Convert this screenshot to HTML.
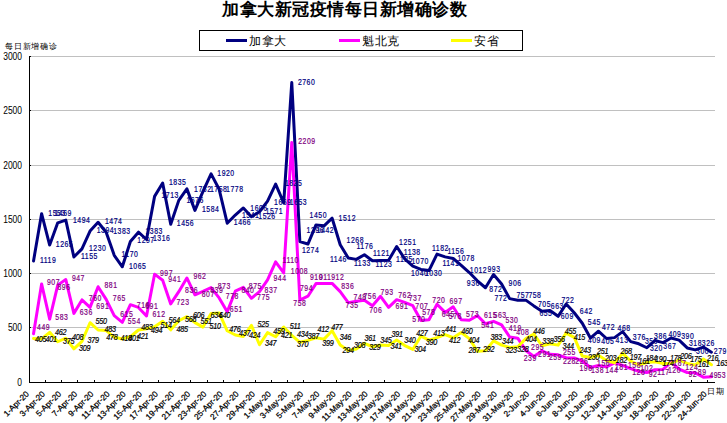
<!DOCTYPE html>
<html><head><meta charset="utf-8"><style>
html,body{margin:0;padding:0;background:#fff;width:727px;height:423px;overflow:hidden}
body{position:relative;font-family:"Liberation Sans",sans-serif}
svg{position:absolute;left:0;top:0}
text{font-family:"Liberation Sans",sans-serif}
.yl{font-size:10.2px;fill:#000}
.xl{font-size:8.2px;fill:#000;stroke:#000;stroke-width:0.25px}
.lca,.lqc,.lon{font-size:8.4px;letter-spacing:-0.3px}
.lca,.lqc{letter-spacing:0.63px}
.lca{fill:#000080;stroke:#000080;stroke-width:0.2px}
.lqc{fill:#800080;stroke:#800080;stroke-width:0.2px}
.lon{fill:#000;font-style:italic;stroke:#000;stroke-width:0.2px}
#title{position:absolute;left:222px;top:-2px;font-size:17px;letter-spacing:0.5px;font-weight:bold;white-space:nowrap}
#ylab{position:absolute;left:5px;top:40.8px;font-size:8px;letter-spacing:0.8px;white-space:nowrap}
#xlab{position:absolute;left:707px;top:386px;font-size:8px;white-space:nowrap;letter-spacing:1px}
#legend{position:absolute;left:199px;top:30px;width:322px;height:19px;border:1px solid #000;background:#fff}
.li{position:absolute;top:1.3px;height:19px;font-size:12px;line-height:19px;white-space:nowrap}
.li i{position:absolute;top:6.7px;height:3px;width:21px;left:0}
.li span{position:absolute;left:23px;top:0;letter-spacing:0.6px}
</style></head><body>
<svg width="727" height="423" viewBox="0 0 727 423">
<line x1="30" y1="327.5" x2="715" y2="327.5" stroke="#c0c0c0" stroke-width="1"/>
<line x1="30" y1="327.5" x2="31" y2="327.5" stroke="#000" stroke-width="1"/>
<line x1="30" y1="273.5" x2="715" y2="273.5" stroke="#c0c0c0" stroke-width="1"/>
<line x1="30" y1="273.5" x2="31" y2="273.5" stroke="#000" stroke-width="1"/>
<line x1="30" y1="219.5" x2="715" y2="219.5" stroke="#c0c0c0" stroke-width="1"/>
<line x1="30" y1="219.5" x2="31" y2="219.5" stroke="#000" stroke-width="1"/>
<line x1="30" y1="165.5" x2="715" y2="165.5" stroke="#c0c0c0" stroke-width="1"/>
<line x1="30" y1="165.5" x2="31" y2="165.5" stroke="#000" stroke-width="1"/>
<line x1="30" y1="110.5" x2="715" y2="110.5" stroke="#c0c0c0" stroke-width="1"/>
<line x1="30" y1="110.5" x2="31" y2="110.5" stroke="#000" stroke-width="1"/>
<line x1="30" y1="56.5" x2="715" y2="56.5" stroke="#c0c0c0" stroke-width="1"/>
<line x1="30" y1="56.5" x2="31" y2="56.5" stroke="#000" stroke-width="1"/>
<line x1="29.5" y1="56" x2="29.5" y2="383" stroke="#000" stroke-width="1"/>
<line x1="29" y1="382.5" x2="715" y2="382.5" stroke="#000" stroke-width="1"/>
<line x1="45.5" y1="380" x2="45.5" y2="382" stroke="#000" stroke-width="1"/>
<line x1="61.5" y1="380" x2="61.5" y2="382" stroke="#000" stroke-width="1"/>
<line x1="77.5" y1="380" x2="77.5" y2="382" stroke="#000" stroke-width="1"/>
<line x1="94.5" y1="380" x2="94.5" y2="382" stroke="#000" stroke-width="1"/>
<line x1="110.5" y1="380" x2="110.5" y2="382" stroke="#000" stroke-width="1"/>
<line x1="126.5" y1="380" x2="126.5" y2="382" stroke="#000" stroke-width="1"/>
<line x1="142.5" y1="380" x2="142.5" y2="382" stroke="#000" stroke-width="1"/>
<line x1="158.5" y1="380" x2="158.5" y2="382" stroke="#000" stroke-width="1"/>
<line x1="174.5" y1="380" x2="174.5" y2="382" stroke="#000" stroke-width="1"/>
<line x1="190.5" y1="380" x2="190.5" y2="382" stroke="#000" stroke-width="1"/>
<line x1="207.5" y1="380" x2="207.5" y2="382" stroke="#000" stroke-width="1"/>
<line x1="223.5" y1="380" x2="223.5" y2="382" stroke="#000" stroke-width="1"/>
<line x1="239.5" y1="380" x2="239.5" y2="382" stroke="#000" stroke-width="1"/>
<line x1="255.5" y1="380" x2="255.5" y2="382" stroke="#000" stroke-width="1"/>
<line x1="271.5" y1="380" x2="271.5" y2="382" stroke="#000" stroke-width="1"/>
<line x1="287.5" y1="380" x2="287.5" y2="382" stroke="#000" stroke-width="1"/>
<line x1="303.5" y1="380" x2="303.5" y2="382" stroke="#000" stroke-width="1"/>
<line x1="320.5" y1="380" x2="320.5" y2="382" stroke="#000" stroke-width="1"/>
<line x1="336.5" y1="380" x2="336.5" y2="382" stroke="#000" stroke-width="1"/>
<line x1="352.5" y1="380" x2="352.5" y2="382" stroke="#000" stroke-width="1"/>
<line x1="368.5" y1="380" x2="368.5" y2="382" stroke="#000" stroke-width="1"/>
<line x1="384.5" y1="380" x2="384.5" y2="382" stroke="#000" stroke-width="1"/>
<line x1="400.5" y1="380" x2="400.5" y2="382" stroke="#000" stroke-width="1"/>
<line x1="416.5" y1="380" x2="416.5" y2="382" stroke="#000" stroke-width="1"/>
<line x1="432.5" y1="380" x2="432.5" y2="382" stroke="#000" stroke-width="1"/>
<line x1="449.5" y1="380" x2="449.5" y2="382" stroke="#000" stroke-width="1"/>
<line x1="465.5" y1="380" x2="465.5" y2="382" stroke="#000" stroke-width="1"/>
<line x1="481.5" y1="380" x2="481.5" y2="382" stroke="#000" stroke-width="1"/>
<line x1="497.5" y1="380" x2="497.5" y2="382" stroke="#000" stroke-width="1"/>
<line x1="513.5" y1="380" x2="513.5" y2="382" stroke="#000" stroke-width="1"/>
<line x1="529.5" y1="380" x2="529.5" y2="382" stroke="#000" stroke-width="1"/>
<line x1="545.5" y1="380" x2="545.5" y2="382" stroke="#000" stroke-width="1"/>
<line x1="562.5" y1="380" x2="562.5" y2="382" stroke="#000" stroke-width="1"/>
<line x1="578.5" y1="380" x2="578.5" y2="382" stroke="#000" stroke-width="1"/>
<line x1="594.5" y1="380" x2="594.5" y2="382" stroke="#000" stroke-width="1"/>
<line x1="610.5" y1="380" x2="610.5" y2="382" stroke="#000" stroke-width="1"/>
<line x1="626.5" y1="380" x2="626.5" y2="382" stroke="#000" stroke-width="1"/>
<line x1="642.5" y1="380" x2="642.5" y2="382" stroke="#000" stroke-width="1"/>
<line x1="658.5" y1="380" x2="658.5" y2="382" stroke="#000" stroke-width="1"/>
<line x1="675.5" y1="380" x2="675.5" y2="382" stroke="#000" stroke-width="1"/>
<line x1="691.5" y1="380" x2="691.5" y2="382" stroke="#000" stroke-width="1"/>
<line x1="707.5" y1="380" x2="707.5" y2="382" stroke="#000" stroke-width="1"/>
<text transform="translate(22,385.8) scale(0.83,1)" text-anchor="end" class="yl">0</text>
<text transform="translate(22,330.8) scale(0.83,1)" text-anchor="end" class="yl">500</text>
<text transform="translate(22,276.8) scale(0.83,1)" text-anchor="end" class="yl">1000</text>
<text transform="translate(22,222.8) scale(0.83,1)" text-anchor="end" class="yl">1500</text>
<text transform="translate(22,168.8) scale(0.83,1)" text-anchor="end" class="yl">2000</text>
<text transform="translate(22,113.8) scale(0.83,1)" text-anchor="end" class="yl">2500</text>
<text transform="translate(22,59.8) scale(0.83,1)" text-anchor="end" class="yl">3000</text>
<text transform="translate(25.2,390.2) rotate(-45)" text-anchor="end" class="xl" x="0" y="6">1-Apr-20</text>
<text transform="translate(41.3,390.2) rotate(-45)" text-anchor="end" class="xl" x="0" y="6">3-Apr-20</text>
<text transform="translate(57.5,390.2) rotate(-45)" text-anchor="end" class="xl" x="0" y="6">5-Apr-20</text>
<text transform="translate(73.6,390.2) rotate(-45)" text-anchor="end" class="xl" x="0" y="6">7-Apr-20</text>
<text transform="translate(89.8,390.2) rotate(-45)" text-anchor="end" class="xl" x="0" y="6">9-Apr-20</text>
<text transform="translate(105.9,390.2) rotate(-45)" text-anchor="end" class="xl" x="0" y="6">11-Apr-20</text>
<text transform="translate(122.0,390.2) rotate(-45)" text-anchor="end" class="xl" x="0" y="6">13-Apr-20</text>
<text transform="translate(138.2,390.2) rotate(-45)" text-anchor="end" class="xl" x="0" y="6">15-Apr-20</text>
<text transform="translate(154.3,390.2) rotate(-45)" text-anchor="end" class="xl" x="0" y="6">17-Apr-20</text>
<text transform="translate(170.5,390.2) rotate(-45)" text-anchor="end" class="xl" x="0" y="6">19-Apr-20</text>
<text transform="translate(186.6,390.2) rotate(-45)" text-anchor="end" class="xl" x="0" y="6">21-Apr-20</text>
<text transform="translate(202.7,390.2) rotate(-45)" text-anchor="end" class="xl" x="0" y="6">23-Apr-20</text>
<text transform="translate(218.9,390.2) rotate(-45)" text-anchor="end" class="xl" x="0" y="6">25-Apr-20</text>
<text transform="translate(235.0,390.2) rotate(-45)" text-anchor="end" class="xl" x="0" y="6">27-Apr-20</text>
<text transform="translate(251.2,390.2) rotate(-45)" text-anchor="end" class="xl" x="0" y="6">29-Apr-20</text>
<text transform="translate(267.3,390.2) rotate(-45)" text-anchor="end" class="xl" x="0" y="6">1-May-20</text>
<text transform="translate(283.4,390.2) rotate(-45)" text-anchor="end" class="xl" x="0" y="6">3-May-20</text>
<text transform="translate(299.6,390.2) rotate(-45)" text-anchor="end" class="xl" x="0" y="6">5-May-20</text>
<text transform="translate(315.7,390.2) rotate(-45)" text-anchor="end" class="xl" x="0" y="6">7-May-20</text>
<text transform="translate(331.9,390.2) rotate(-45)" text-anchor="end" class="xl" x="0" y="6">9-May-20</text>
<text transform="translate(348.0,390.2) rotate(-45)" text-anchor="end" class="xl" x="0" y="6">11-May-20</text>
<text transform="translate(364.1,390.2) rotate(-45)" text-anchor="end" class="xl" x="0" y="6">13-May-20</text>
<text transform="translate(380.3,390.2) rotate(-45)" text-anchor="end" class="xl" x="0" y="6">15-May-20</text>
<text transform="translate(396.4,390.2) rotate(-45)" text-anchor="end" class="xl" x="0" y="6">17-May-20</text>
<text transform="translate(412.6,390.2) rotate(-45)" text-anchor="end" class="xl" x="0" y="6">19-May-20</text>
<text transform="translate(428.7,390.2) rotate(-45)" text-anchor="end" class="xl" x="0" y="6">21-May-20</text>
<text transform="translate(444.8,390.2) rotate(-45)" text-anchor="end" class="xl" x="0" y="6">23-May-20</text>
<text transform="translate(461.0,390.2) rotate(-45)" text-anchor="end" class="xl" x="0" y="6">25-May-20</text>
<text transform="translate(477.1,390.2) rotate(-45)" text-anchor="end" class="xl" x="0" y="6">27-May-20</text>
<text transform="translate(493.3,390.2) rotate(-45)" text-anchor="end" class="xl" x="0" y="6">29-May-20</text>
<text transform="translate(509.4,390.2) rotate(-45)" text-anchor="end" class="xl" x="0" y="6">31-May-20</text>
<text transform="translate(525.5,390.2) rotate(-45)" text-anchor="end" class="xl" x="0" y="6">2-Jun-20</text>
<text transform="translate(541.7,390.2) rotate(-45)" text-anchor="end" class="xl" x="0" y="6">4-Jun-20</text>
<text transform="translate(557.8,390.2) rotate(-45)" text-anchor="end" class="xl" x="0" y="6">6-Jun-20</text>
<text transform="translate(574.0,390.2) rotate(-45)" text-anchor="end" class="xl" x="0" y="6">8-Jun-20</text>
<text transform="translate(590.1,390.2) rotate(-45)" text-anchor="end" class="xl" x="0" y="6">10-Jun-20</text>
<text transform="translate(606.2,390.2) rotate(-45)" text-anchor="end" class="xl" x="0" y="6">12-Jun-20</text>
<text transform="translate(622.4,390.2) rotate(-45)" text-anchor="end" class="xl" x="0" y="6">14-Jun-20</text>
<text transform="translate(638.5,390.2) rotate(-45)" text-anchor="end" class="xl" x="0" y="6">16-Jun-20</text>
<text transform="translate(654.7,390.2) rotate(-45)" text-anchor="end" class="xl" x="0" y="6">18-Jun-20</text>
<text transform="translate(670.8,390.2) rotate(-45)" text-anchor="end" class="xl" x="0" y="6">20-Jun-20</text>
<text transform="translate(686.9,390.2) rotate(-45)" text-anchor="end" class="xl" x="0" y="6">22-Jun-20</text>
<text transform="translate(703.1,390.2) rotate(-45)" text-anchor="end" class="xl" x="0" y="6">24-Jun-20</text>
<polyline points="33.53,260.90 41.60,213.74 49.67,245.03 57.74,222.86 65.81,220.15 73.88,256.99 81.95,248.84 90.03,231.01 98.09,222.32 106.16,232.21 114.23,255.36 122.31,266.77 130.38,241.56 138.44,232.21 146.51,239.49 154.59,196.35 162.66,183.09 170.72,224.28 178.79,200.37 186.87,188.85 194.94,210.37 203.00,191.46 211.08,173.85 219.15,189.28 227.22,223.19 235.28,215.04 243.35,207.98 251.43,216.67 259.50,211.78 267.56,201.13 275.63,184.18 283.71,202.87 291.77,82.57 299.85,241.66 307.91,244.05 315.99,224.93 324.05,225.80 332.12,218.19 340.20,244.71 348.26,257.96 356.34,259.38 364.40,254.70 372.48,260.68 380.54,260.46 388.62,260.25 396.69,246.55 404.75,258.83 412.83,266.22 420.89,269.48 428.97,270.57 437.03,254.05 445.11,256.88 453.17,258.51 461.25,265.35 469.32,272.53 477.38,280.78 485.46,287.74 493.52,274.59 501.60,284.04 509.66,298.61 517.74,300.24 525.81,300.13 533.88,305.89 541.95,311.32 550.01,310.45 558.09,316.32 566.15,304.04 574.23,312.73 582.29,323.27 590.37,338.05 598.43,331.21 606.50,338.49 614.57,337.62 622.64,331.64 630.72,341.64 638.78,343.81 646.86,347.73 654.92,340.55 663.00,342.62 671.06,338.05 679.13,340.12 687.21,347.94 695.27,349.90 703.35,347.07 711.41,352.18" fill="none" stroke="#000080" stroke-width="3.0" stroke-linejoin="round" stroke-linecap="round"/>
<polyline points="33.53,333.71 41.60,283.94 49.67,319.15 57.74,285.13 65.81,279.59 73.88,313.39 81.95,299.91 90.03,307.41 98.09,286.76 106.16,299.37 114.23,315.67 122.31,322.30 130.38,304.69 138.44,307.41 146.51,315.99 154.59,274.16 162.66,280.24 170.72,303.93 178.79,291.65 186.87,277.96 194.94,294.80 203.00,291.33 211.08,287.63 219.15,297.95 227.22,311.76 235.28,291.22 243.35,287.41 251.43,298.28 259.50,291.54 267.56,279.92 275.63,261.88 283.71,272.96 291.77,142.45 299.85,300.13 307.91,296.22 315.99,283.61 324.05,283.50 332.12,283.39 340.20,291.65 348.26,302.63 356.34,301.21 364.40,300.35 372.48,305.78 380.54,296.32 388.62,307.41 396.69,299.69 404.75,302.41 412.83,305.67 420.89,320.56 428.97,319.69 437.03,304.26 445.11,312.41 453.17,306.76 461.25,319.69 469.32,320.23 477.38,315.67 485.46,323.71 493.52,321.32 501.60,324.90 509.66,336.97 517.74,338.16 525.81,350.44 533.88,356.53 541.95,350.88 550.01,354.35 558.09,354.79 566.15,357.72 574.23,357.94 582.29,360.98 590.37,367.50 598.43,365.55 606.50,366.85 614.57,362.83 622.64,365.33 630.72,368.59 638.78,371.42 646.86,372.50 654.92,369.79 663.00,369.46 671.06,362.18 679.13,369.02 687.21,372.50 695.27,372.83 703.35,377.18 711.41,376.74" fill="none" stroke="#ff00ff" stroke-width="3.0" stroke-linejoin="round" stroke-linecap="round"/>
<polyline points="33.53,338.49 41.60,338.92 49.67,332.29 57.74,341.75 65.81,338.16 73.88,348.92 81.95,341.31 90.03,322.73 98.09,330.01 106.16,330.56 114.23,337.08 122.31,338.92 130.38,336.75 138.44,330.01 146.51,328.82 154.59,326.64 162.66,321.21 170.72,329.80 178.79,320.78 186.87,316.65 194.94,322.62 203.00,327.08 211.08,313.60 219.15,312.95 227.22,330.77 235.28,335.01 243.35,336.42 251.43,325.45 259.50,344.79 267.56,332.62 275.63,336.75 283.71,326.97 291.77,335.34 299.85,342.29 307.91,340.44 315.99,337.73 324.05,339.14 332.12,330.66 340.20,344.90 348.26,350.55 356.34,349.03 364.40,343.27 372.48,346.75 380.54,345.01 388.62,345.44 396.69,340.01 404.75,345.55 412.83,349.46 420.89,336.10 428.97,340.12 437.03,337.62 445.11,334.58 453.17,337.73 461.25,332.51 469.32,338.60 477.38,351.31 485.46,350.77 493.52,340.88 501.60,345.12 509.66,347.40 517.74,346.86 525.81,338.60 533.88,334.03 541.95,345.77 550.01,343.81 558.09,345.12 566.15,333.06 574.23,337.40 582.29,356.09 590.37,357.51 598.43,355.22 606.50,360.44 614.57,362.72 622.64,353.38 630.72,361.09 638.78,365.00 646.86,362.50 654.92,361.85 663.00,363.59 671.06,363.16 679.13,360.11 687.21,363.48 695.27,365.00 703.35,359.03 711.41,364.79" fill="none" stroke="#ffff00" stroke-width="3.0" stroke-linejoin="round" stroke-linecap="round"/>
<text transform="translate(35.1,341.7) scale(0.86,1)" class="lon">405</text>
<text transform="translate(45.5,341.7) scale(0.86,1)" class="lon">401</text>
<text transform="translate(55.0,334.6) scale(0.86,1)" class="lon">462</text>
<text transform="translate(63.0,343.5) scale(0.86,1)" class="lon">375</text>
<text transform="translate(72.0,340.2) scale(0.86,1)" class="lon">408</text>
<text transform="translate(79.1,351.1) scale(0.86,1)" class="lon">309</text>
<text transform="translate(87.4,343.1) scale(0.86,1)" class="lon">379</text>
<text transform="translate(95.4,324.1) scale(0.86,1)" class="lon">550</text>
<text transform="translate(104.5,332.0) scale(0.86,1)" class="lon">483</text>
<text transform="translate(106.2,340.1) scale(0.86,1)" class="lon">478</text>
<text transform="translate(120.5,340.5) scale(0.86,1)" class="lon">418</text>
<text transform="translate(128.2,341.0) scale(0.86,1)" class="lon">401</text>
<text transform="translate(137.0,338.5) scale(0.86,1)" class="lon">421</text>
<text transform="translate(141.3,329.5) scale(0.86,1)" class="lon">483</text>
<text transform="translate(150.9,333.2) scale(0.86,1)" class="lon">494</text>
<text transform="translate(160.4,327.9) scale(0.86,1)" class="lon">514</text>
<text transform="translate(168.4,323.1) scale(0.86,1)" class="lon">564</text>
<text transform="translate(176.5,331.9) scale(0.86,1)" class="lon">485</text>
<text transform="translate(185.0,322.4) scale(0.86,1)" class="lon">568</text>
<text transform="translate(193.0,318.1) scale(0.86,1)" class="lon">606</text>
<text transform="translate(200.4,324.0) scale(0.86,1)" class="lon">551</text>
<text transform="translate(209.5,329.3) scale(0.86,1)" class="lon">510</text>
<text transform="translate(210.6,317.6) scale(0.86,1)" class="lon">634</text>
<text transform="translate(219.0,317.6) scale(0.86,1)" class="lon">640</text>
<text transform="translate(229.3,331.6) scale(0.86,1)" class="lon">476</text>
<text transform="translate(238.9,336.4) scale(0.86,1)" class="lon">437</text>
<text transform="translate(249.0,338.0) scale(0.86,1)" class="lon">424</text>
<text transform="translate(257.5,326.8) scale(0.86,1)" class="lon">525</text>
<text transform="translate(264.9,346.0) scale(0.86,1)" class="lon">347</text>
<text transform="translate(273.2,334.1) scale(0.86,1)" class="lon">459</text>
<text transform="translate(281.1,338.3) scale(0.86,1)" class="lon">421</text>
<text transform="translate(289.7,329.3) scale(0.86,1)" class="lon">511</text>
<text transform="translate(297.1,337.3) scale(0.86,1)" class="lon">434</text>
<text transform="translate(297.1,346.8) scale(0.86,1)" class="lon">370</text>
<text transform="translate(307.7,339.4) scale(0.86,1)" class="lon">387</text>
<text transform="translate(317.4,332.1) scale(0.86,1)" class="lon">412</text>
<text transform="translate(322.2,346.0) scale(0.86,1)" class="lon">399</text>
<text transform="translate(331.3,330.0) scale(0.86,1)" class="lon">477</text>
<text transform="translate(339.8,340.1) scale(0.86,1)" class="lon">346</text>
<text transform="translate(342.4,353.4) scale(0.86,1)" class="lon">294</text>
<text transform="translate(354.1,348.1) scale(0.86,1)" class="lon">308</text>
<text transform="translate(364.4,341.2) scale(0.86,1)" class="lon">361</text>
<text transform="translate(369.2,349.7) scale(0.86,1)" class="lon">329</text>
<text transform="translate(380.3,343.3) scale(0.86,1)" class="lon">345</text>
<text transform="translate(390.4,349.2) scale(0.86,1)" class="lon">341</text>
<text transform="translate(391.5,336.9) scale(0.86,1)" class="lon">391</text>
<text transform="translate(404.3,343.3) scale(0.86,1)" class="lon">340</text>
<text transform="translate(414.6,351.5) scale(0.86,1)" class="lon">304</text>
<text transform="translate(416.2,336.1) scale(0.86,1)" class="lon">427</text>
<text transform="translate(425.7,345.1) scale(0.86,1)" class="lon">390</text>
<text transform="translate(433.2,335.6) scale(0.86,1)" class="lon">413</text>
<text transform="translate(444.9,331.8) scale(0.86,1)" class="lon">441</text>
<text transform="translate(449.1,342.5) scale(0.86,1)" class="lon">412</text>
<text transform="translate(461.2,334.0) scale(0.86,1)" class="lon">460</text>
<text transform="translate(468.1,343.0) scale(0.86,1)" class="lon">404</text>
<text transform="translate(468.6,352.6) scale(0.86,1)" class="lon">287</text>
<text transform="translate(483.0,352.0) scale(0.86,1)" class="lon">292</text>
<text transform="translate(490.4,339.8) scale(0.86,1)" class="lon">383</text>
<text transform="translate(502.0,344.0) scale(0.86,1)" class="lon">344</text>
<text transform="translate(505.6,353.3) scale(0.86,1)" class="lon">323</text>
<text transform="translate(517.3,351.7) scale(0.86,1)" class="lon">328</text>
<text transform="translate(525.3,342.1) scale(0.86,1)" class="lon">404</text>
<text transform="translate(533.3,333.6) scale(0.86,1)" class="lon">446</text>
<text transform="translate(542.3,344.3) scale(0.86,1)" class="lon">338</text>
<text transform="translate(553.5,342.1) scale(0.86,1)" class="lon">356</text>
<text transform="translate(562.6,348.5) scale(0.86,1)" class="lon">344</text>
<text transform="translate(564.7,333.6) scale(0.86,1)" class="lon">455</text>
<text transform="translate(573.7,340.0) scale(0.86,1)" class="lon">415</text>
<text transform="translate(579.6,353.3) scale(0.86,1)" class="lon">243</text>
<text transform="translate(588.1,359.7) scale(0.86,1)" class="lon">230</text>
<text transform="translate(597.1,353.9) scale(0.86,1)" class="lon">251</text>
<text transform="translate(605.1,360.9) scale(0.86,1)" class="lon">203</text>
<text transform="translate(615.8,363.0) scale(0.86,1)" class="lon">182</text>
<text transform="translate(620.6,354.0) scale(0.86,1)" class="lon">268</text>
<text transform="translate(629.8,360.1) scale(0.86,1)" class="lon">197</text>
<text transform="translate(638.6,364.0) scale(0.86,1)" class="lon">161</text>
<text transform="translate(645.5,361.4) scale(0.86,1)" class="lon">184</text>
<text transform="translate(655.1,361.9) scale(0.86,1)" class="lon">190</text>
<text transform="translate(662.6,366.2) scale(0.86,1)" class="lon">174</text>
<text transform="translate(670.1,361.0) scale(0.86,1)" class="lon">178</text>
<text transform="translate(680.2,359.4) scale(0.86,1)" class="lon">206</text>
<text transform="translate(690.2,362.0) scale(0.86,1)" class="lon">175</text>
<text transform="translate(698.1,366.8) scale(0.86,1)" class="lon">161</text>
<text transform="translate(706.9,361.1) scale(0.86,1)" class="lon">216</text>
<text transform="translate(716.5,366.4) scale(0.86,1)" class="lon">163</text>
<text transform="translate(37.1,330.1) scale(0.82,1)" class="lqc">449</text>
<text transform="translate(47.0,284.9) scale(0.82,1)" class="lqc">907</text>
<text transform="translate(55.3,320.2) scale(0.82,1)" class="lqc">583</text>
<text transform="translate(57.5,289.6) scale(0.82,1)" class="lqc">896</text>
<text transform="translate(71.9,281.3) scale(0.82,1)" class="lqc">947</text>
<text transform="translate(79.7,315.2) scale(0.82,1)" class="lqc">636</text>
<text transform="translate(88.8,301.1) scale(0.82,1)" class="lqc">760</text>
<text transform="translate(96.2,309.1) scale(0.82,1)" class="lqc">691</text>
<text transform="translate(104.5,288.2) scale(0.82,1)" class="lqc">881</text>
<text transform="translate(112.8,301.1) scale(0.82,1)" class="lqc">765</text>
<text transform="translate(120.2,316.9) scale(0.82,1)" class="lqc">615</text>
<text transform="translate(127.7,324.3) scale(0.82,1)" class="lqc">554</text>
<text transform="translate(136.8,307.8) scale(0.82,1)" class="lqc">716</text>
<text transform="translate(145.2,308.6) scale(0.82,1)" class="lqc">691</text>
<text transform="translate(152.5,316.9) scale(0.82,1)" class="lqc">612</text>
<text transform="translate(160.0,276.0) scale(0.82,1)" class="lqc">997</text>
<text transform="translate(168.2,282.1) scale(0.82,1)" class="lqc">941</text>
<text transform="translate(176.5,304.5) scale(0.82,1)" class="lqc">723</text>
<text transform="translate(185.1,292.8) scale(0.82,1)" class="lqc">836</text>
<text transform="translate(193.4,278.8) scale(0.82,1)" class="lqc">962</text>
<text transform="translate(201.7,296.7) scale(0.82,1)" class="lqc">807</text>
<text transform="translate(210.2,293.4) scale(0.82,1)" class="lqc">839</text>
<text transform="translate(217.7,289.1) scale(0.82,1)" class="lqc">873</text>
<text transform="translate(225.8,299.0) scale(0.82,1)" class="lqc">778</text>
<text transform="translate(229.8,311.9) scale(0.82,1)" class="lqc">651</text>
<text transform="translate(241.4,292.8) scale(0.82,1)" class="lqc">840</text>
<text transform="translate(248.8,288.7) scale(0.82,1)" class="lqc">875</text>
<text transform="translate(257.1,300.3) scale(0.82,1)" class="lqc">775</text>
<text transform="translate(264.6,292.8) scale(0.82,1)" class="lqc">837</text>
<text transform="translate(273.5,281.1) scale(0.82,1)" class="lqc">944</text>
<text transform="translate(282.6,262.9) scale(0.82,1)" class="lqc">1110</text>
<text transform="translate(290.8,273.6) scale(0.82,1)" class="lqc">1008</text>
<text transform="translate(298.2,144.1) scale(0.82,1)" class="lqc">2209</text>
<text transform="translate(293.3,305.9) scale(0.82,1)" class="lqc">758</text>
<text transform="translate(300.0,290.7) scale(0.82,1)" class="lqc">794</text>
<text transform="translate(310.0,279.8) scale(0.82,1)" class="lqc">910</text>
<text transform="translate(318.9,279.8) scale(0.82,1)" class="lqc">911</text>
<text transform="translate(331.2,279.8) scale(0.82,1)" class="lqc">912</text>
<text transform="translate(341.2,289.3) scale(0.82,1)" class="lqc">836</text>
<text transform="translate(345.6,308.1) scale(0.82,1)" class="lqc">735</text>
<text transform="translate(353.6,299.6) scale(0.82,1)" class="lqc">748</text>
<text transform="translate(363.5,298.6) scale(0.82,1)" class="lqc">756</text>
<text transform="translate(369.2,313.3) scale(0.82,1)" class="lqc">706</text>
<text transform="translate(380.6,295.3) scale(0.82,1)" class="lqc">793</text>
<text transform="translate(395.4,309.0) scale(0.82,1)" class="lqc">691</text>
<text transform="translate(398.2,297.7) scale(0.82,1)" class="lqc">762</text>
<text transform="translate(408.7,301.4) scale(0.82,1)" class="lqc">737</text>
<text transform="translate(415.3,309.0) scale(0.82,1)" class="lqc">707</text>
<text transform="translate(412.3,322.4) scale(0.82,1)" class="lqc">570</text>
<text transform="translate(422.2,315.3) scale(0.82,1)" class="lqc">578</text>
<text transform="translate(432.3,303.3) scale(0.82,1)" class="lqc">720</text>
<text transform="translate(441.7,316.7) scale(0.82,1)" class="lqc">645</text>
<text transform="translate(449.5,303.9) scale(0.82,1)" class="lqc">697</text>
<text transform="translate(448.8,318.9) scale(0.82,1)" class="lqc">578</text>
<text transform="translate(466.0,317.1) scale(0.82,1)" class="lqc">573</text>
<text transform="translate(484.0,317.6) scale(0.82,1)" class="lqc">615</text>
<text transform="translate(481.2,327.5) scale(0.82,1)" class="lqc">541</text>
<text transform="translate(493.6,317.5) scale(0.82,1)" class="lqc">563</text>
<text transform="translate(505.4,323.1) scale(0.82,1)" class="lqc">530</text>
<text transform="translate(508.7,331.2) scale(0.82,1)" class="lqc">419</text>
<text transform="translate(516.3,335.0) scale(0.82,1)" class="lqc">408</text>
<text transform="translate(531.1,350.0) scale(0.82,1)" class="lqc">295</text>
<text transform="translate(523.7,360.7) scale(0.82,1)" class="lqc">239</text>
<text transform="translate(538.1,356.6) scale(0.82,1)" class="lqc">291</text>
<text transform="translate(548.9,360.3) scale(0.82,1)" class="lqc">259</text>
<text transform="translate(562.9,355.2) scale(0.82,1)" class="lqc">255</text>
<text transform="translate(562.9,363.5) scale(0.82,1)" class="lqc">228</text>
<text transform="translate(575.3,363.5) scale(0.82,1)" class="lqc">226</text>
<text transform="translate(579.5,371.0) scale(0.82,1)" class="lqc">198</text>
<text transform="translate(591.0,372.6) scale(0.82,1)" class="lqc">138</text>
<text transform="translate(597.1,365.7) scale(0.82,1)" class="lqc">156</text>
<text transform="translate(605.2,372.6) scale(0.82,1)" class="lqc">144</text>
<text transform="translate(615.0,369.6) scale(0.82,1)" class="lqc">181</text>
<text transform="translate(628.0,368.3) scale(0.82,1)" class="lqc">158</text>
<text transform="translate(632.2,375.2) scale(0.82,1)" class="lqc">128</text>
<text transform="translate(640.2,371.0) scale(0.82,1)" class="lqc">102</text>
<text transform="translate(648.7,377.4) scale(0.82,1)" class="lqc">92</text>
<text transform="translate(657.2,375.2) scale(0.82,1)" class="lqc">117</text>
<text transform="translate(668.0,372.9) scale(0.82,1)" class="lqc">120</text>
<text transform="translate(673.3,366.3) scale(0.82,1)" class="lqc">187</text>
<text transform="translate(685.2,369.6) scale(0.82,1)" class="lqc">124</text>
<text transform="translate(688.5,376.9) scale(0.82,1)" class="lqc">92</text>
<text transform="translate(697.8,374.9) scale(0.82,1)" class="lqc">89</text>
<text transform="translate(709.5,378.2) scale(0.82,1)" class="lqc">49</text>
<text transform="translate(717.4,378.2) scale(0.82,1)" class="lqc">53</text>
<text transform="translate(39.9,263.0) scale(0.82,1)" class="lca">1119</text>
<text transform="translate(48.3,215.8) scale(0.82,1)" class="lca">1553</text>
<text transform="translate(55.8,246.9) scale(0.82,1)" class="lca">1265</text>
<text transform="translate(54.5,215.8) scale(0.82,1)" class="lca">1469</text>
<text transform="translate(73.0,222.5) scale(0.82,1)" class="lca">1494</text>
<text transform="translate(81.0,259.3) scale(0.82,1)" class="lca">1155</text>
<text transform="translate(89.0,251.0) scale(0.82,1)" class="lca">1230</text>
<text transform="translate(96.7,232.8) scale(0.82,1)" class="lca">1394</text>
<text transform="translate(105.0,223.7) scale(0.82,1)" class="lca">1474</text>
<text transform="translate(113.2,234.0) scale(0.82,1)" class="lca">1383</text>
<text transform="translate(121.5,256.8) scale(0.82,1)" class="lca">1170</text>
<text transform="translate(129.0,268.9) scale(0.82,1)" class="lca">1065</text>
<text transform="translate(137.3,242.7) scale(0.82,1)" class="lca">1297</text>
<text transform="translate(145.5,233.6) scale(0.82,1)" class="lca">1383</text>
<text transform="translate(153.0,241.4) scale(0.82,1)" class="lca">1316</text>
<text transform="translate(161.5,197.8) scale(0.82,1)" class="lca">1713</text>
<text transform="translate(169.0,185.4) scale(0.82,1)" class="lca">1835</text>
<text transform="translate(176.8,225.9) scale(0.82,1)" class="lca">1456</text>
<text transform="translate(186.4,202.7) scale(0.82,1)" class="lca">1676</text>
<text transform="translate(194.1,191.8) scale(0.82,1)" class="lca">1782</text>
<text transform="translate(202.0,211.8) scale(0.82,1)" class="lca">1584</text>
<text transform="translate(210.0,191.8) scale(0.82,1)" class="lca">1758</text>
<text transform="translate(217.3,176.0) scale(0.82,1)" class="lca">1920</text>
<text transform="translate(226.1,191.8) scale(0.82,1)" class="lca">1778</text>
<text transform="translate(233.8,225.0) scale(0.82,1)" class="lca">1466</text>
<text transform="translate(242.0,217.5) scale(0.82,1)" class="lca">1541</text>
<text transform="translate(250.3,210.5) scale(0.82,1)" class="lca">1606</text>
<text transform="translate(258.3,219.0) scale(0.82,1)" class="lca">1526</text>
<text transform="translate(265.6,213.6) scale(0.82,1)" class="lca">1571</text>
<text transform="translate(274.1,205.2) scale(0.82,1)" class="lca">1669</text>
<text transform="translate(284.9,186.2) scale(0.82,1)" class="lca">1825</text>
<text transform="translate(289.8,205.2) scale(0.82,1)" class="lca">1653</text>
<text transform="translate(297.9,85.1) scale(0.82,1)" class="lca">2760</text>
<text transform="translate(306.6,233.4) scale(0.82,1)" class="lca">1296</text>
<text transform="translate(301.9,252.9) scale(0.82,1)" class="lca">1274</text>
<text transform="translate(309.6,218.0) scale(0.82,1)" class="lca">1450</text>
<text transform="translate(316.8,233.4) scale(0.82,1)" class="lca">1442</text>
<text transform="translate(338.6,220.5) scale(0.82,1)" class="lca">1512</text>
<text transform="translate(346.6,242.8) scale(0.82,1)" class="lca">1268</text>
<text transform="translate(330.0,261.8) scale(0.82,1)" class="lca">1146</text>
<text transform="translate(354.0,266.0) scale(0.82,1)" class="lca">1133</text>
<text transform="translate(356.5,248.6) scale(0.82,1)" class="lca">1176</text>
<text transform="translate(373.0,256.0) scale(0.82,1)" class="lca">1121</text>
<text transform="translate(375.5,266.8) scale(0.82,1)" class="lca">1123</text>
<text transform="translate(396.1,262.2) scale(0.82,1)" class="lca">1125</text>
<text transform="translate(399.1,245.1) scale(0.82,1)" class="lca">1251</text>
<text transform="translate(403.8,255.1) scale(0.82,1)" class="lca">1138</text>
<text transform="translate(411.5,264.0) scale(0.82,1)" class="lca">1070</text>
<text transform="translate(411.0,276.4) scale(0.82,1)" class="lca">1040</text>
<text transform="translate(425.0,276.4) scale(0.82,1)" class="lca">1030</text>
<text transform="translate(432.0,251.0) scale(0.82,1)" class="lca">1182</text>
<text transform="translate(447.4,253.7) scale(0.82,1)" class="lca">1156</text>
<text transform="translate(442.4,266.0) scale(0.82,1)" class="lca">1141</text>
<text transform="translate(457.4,261.3) scale(0.82,1)" class="lca">1078</text>
<text transform="translate(469.8,273.1) scale(0.82,1)" class="lca">1012</text>
<text transform="translate(466.8,286.0) scale(0.82,1)" class="lca">936</text>
<text transform="translate(489.3,292.0) scale(0.82,1)" class="lca">872</text>
<text transform="translate(487.5,271.9) scale(0.82,1)" class="lca">993</text>
<text transform="translate(508.6,286.2) scale(0.82,1)" class="lca">906</text>
<text transform="translate(494.4,301.3) scale(0.82,1)" class="lca">772</text>
<text transform="translate(516.4,298.2) scale(0.82,1)" class="lca">757</text>
<text transform="translate(528.4,298.2) scale(0.82,1)" class="lca">758</text>
<text transform="translate(538.0,306.5) scale(0.82,1)" class="lca">705</text>
<text transform="translate(539.4,316.4) scale(0.82,1)" class="lca">655</text>
<text transform="translate(550.8,309.3) scale(0.82,1)" class="lca">663</text>
<text transform="translate(560.7,319.2) scale(0.82,1)" class="lca">609</text>
<text transform="translate(561.4,302.9) scale(0.82,1)" class="lca">722</text>
<text transform="translate(579.8,314.3) scale(0.82,1)" class="lca">642</text>
<text transform="translate(587.8,325.0) scale(0.82,1)" class="lca">545</text>
<text transform="translate(587.8,343.4) scale(0.82,1)" class="lca">409</text>
<text transform="translate(602.0,330.0) scale(0.82,1)" class="lca">472</text>
<text transform="translate(601.3,344.4) scale(0.82,1)" class="lca">405</text>
<text transform="translate(615.5,343.4) scale(0.82,1)" class="lca">413</text>
<text transform="translate(617.6,330.7) scale(0.82,1)" class="lca">468</text>
<text transform="translate(632.8,340.0) scale(0.82,1)" class="lca">376</text>
<text transform="translate(644.9,343.5) scale(0.82,1)" class="lca">356</text>
<text transform="translate(649.9,350.6) scale(0.82,1)" class="lca">320</text>
<text transform="translate(654.1,338.5) scale(0.82,1)" class="lca">386</text>
<text transform="translate(663.3,348.5) scale(0.82,1)" class="lca">367</text>
<text transform="translate(668.4,336.5) scale(0.82,1)" class="lca">409</text>
<text transform="translate(681.2,339.3) scale(0.82,1)" class="lca">390</text>
<text transform="translate(689.0,346.4) scale(0.82,1)" class="lca">318</text>
<text transform="translate(696.1,353.5) scale(0.82,1)" class="lca">300</text>
<text transform="translate(701.8,345.7) scale(0.82,1)" class="lca">326</text>
<text transform="translate(713.8,353.5) scale(0.82,1)" class="lca">279</text>
</svg>
<div id="title">加拿大新冠疫情每日新增确诊数</div>
<div id="ylab">每日新增确诊</div>
<div id="xlab">日期</div>
<div id="legend">
<div class="li" style="left:26px"><i style="background:#000080"></i><span>加拿大</span></div>
<div class="li" style="left:139px"><i style="background:#ff00ff"></i><span>魁北克</span></div>
<div class="li" style="left:251px"><i style="background:#ffff00"></i><span>安省</span></div>
</div>
</body></html>
